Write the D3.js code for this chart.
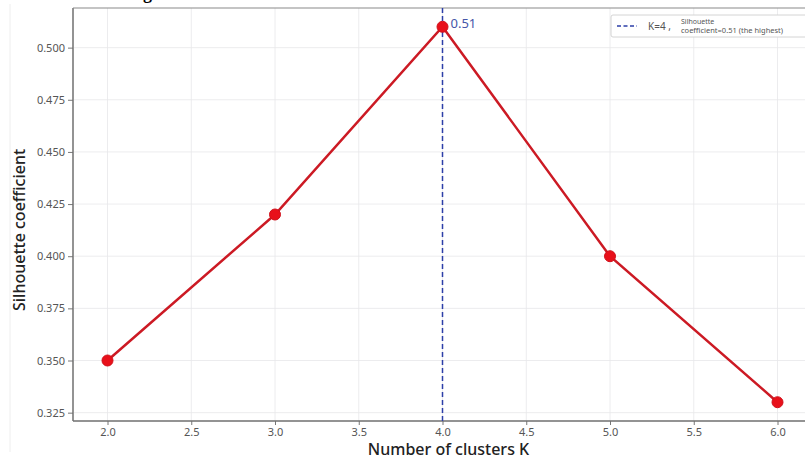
<!DOCTYPE html>
<html>
<head>
<meta charset="utf-8">
<script src="https://cdn.jsdelivr.net/npm/d3@7"></script>
<style>
  body { margin: 0; background: #fff; }
  svg { display: block; font-family: "Noto Sans", "Open Sans", sans-serif; }
</style>
</head>
<body>
<svg id="chart" width="805" height="459"></svg>
<script>
// data
const clusterK = [2, 3, 4, 5, 6];
const silhouette = [0.35, 0.42, 0.51, 0.40, 0.33];
const xTicks = [2.0, 2.5, 3.0, 3.5, 4.0, 4.5, 5.0, 5.5, 6.0];
const yTicks = [0.325, 0.35, 0.375, 0.4, 0.425, 0.45, 0.475, 0.5];
const bestK = 4;
const bestScore = 0.51;
const titleText = "Figure 4. Silhouette coefficient curve";

const svg = d3.select("#chart");
const margin = { top: 8, left: 74, bottom: 421, right: 811 };

const x = d3.scaleLinear().domain([1.8, 6.2]).range([margin.left, margin.right]);
const y = d3.scaleLinear().domain([0.321, 0.519]).range([margin.bottom, margin.top]);

// faint figure edge + title (mostly above the page, as in the source)
svg.append("line")
  .attr("x1", 10).attr("x2", 10).attr("y1", 4).attr("y2", 452)
  .attr("stroke", "#eeeeee").attr("stroke-width", 1);

svg.append("text")
  .attr("x", 127).attr("y", -1)
  .attr("font-family", "Liberation Serif, serif")
  .attr("font-weight", "bold")
  .attr("font-size", 18)
  .attr("fill", "#000")
  .text(titleText);

// grid
const grid = svg.append("g");
grid.selectAll(".gx").data(xTicks).join("line")
  .attr("x1", (d) => x(d)).attr("x2", (d) => x(d))
  .attr("y1", margin.top).attr("y2", margin.bottom)
  .attr("stroke", "#e7e7ea").attr("stroke-width", 0.8);
grid.selectAll(".gy").data(yTicks).join("line")
  .attr("x1", margin.left).attr("x2", margin.right)
  .attr("y1", (d) => y(d)).attr("y2", (d) => y(d))
  .attr("stroke", "#e7e7ea").attr("stroke-width", 0.8);

// axes
const styleAxis = (g) => {
  g.select(".domain").remove();
  g.selectAll(".tick line").attr("stroke", "#777").attr("stroke-width", 1);
  g.selectAll(".tick text")
    .attr("fill", "#555")
    .style("font-size", "11px")
    .style("font-family", "Noto Sans, sans-serif");
};

svg.append("g")
  .attr("transform", `translate(0, ${margin.bottom})`)
  .call(d3.axisBottom(x).tickValues(xTicks).tickSize(4).tickPadding(3).tickFormat(d3.format(".1f")))
  .call(styleAxis);

svg.append("g")
  .attr("transform", `translate(${margin.left - 1}, 0)`)
  .call(d3.axisLeft(y).tickValues(yTicks).tickSize(5).tickPadding(3).tickFormat(d3.format(".3f")))
  .call(styleAxis);

// spines
svg.append("line")
  .attr("x1", margin.left - 1).attr("x2", margin.left - 1)
  .attr("y1", margin.top).attr("y2", margin.bottom)
  .attr("stroke", "#6f6f6f").attr("stroke-width", 1.5);
svg.append("line")
  .attr("x1", margin.left - 1).attr("x2", margin.right)
  .attr("y1", margin.bottom).attr("y2", margin.bottom)
  .attr("stroke", "#6f6f6f").attr("stroke-width", 1.5);
svg.append("line")
  .attr("x1", margin.left - 1).attr("x2", margin.right)
  .attr("y1", margin.top).attr("y2", margin.top)
  .attr("stroke", "#8a8a8a").attr("stroke-width", 1.2);

// best K dashed line
svg.append("line")
  .attr("x1", x(bestK)).attr("x2", x(bestK))
  .attr("y1", margin.top).attr("y2", margin.bottom)
  .attr("stroke", "#2c3fa8").attr("stroke-width", 1.5)
  .attr("stroke-dasharray", "5,3");

// line + points
const pts = clusterK.map((k, i) => ({ k, v: silhouette[i] }));
const line = d3.line().x((d) => x(d.k)).y((d) => y(d.v));

svg.append("path")
  .datum(pts)
  .attr("d", line)
  .attr("fill", "none")
  .attr("stroke", "#cc1a24")
  .attr("stroke-width", 2.5);

svg.selectAll(".pt").data(pts).join("circle")
  .attr("cx", (d) => x(d.k))
  .attr("cy", (d) => y(d.v))
  .attr("r", 5.5)
  .attr("fill", "#e8101a")
  .attr("stroke", "#d0101a")
  .attr("stroke-width", 1);

// annotation
svg.append("text")
  .attr("x", x(bestK) + 8).attr("y", y(bestScore) + 1)
  .attr("fill", "#4556a8")
  .style("font-size", "13px")
  .text(bestScore.toFixed(2));

// legend
const lg = svg.append("g").attr("transform", "translate(611, 15)");
lg.append("rect")
  .attr("width", 200).attr("height", 22).attr("rx", 2)
  .attr("fill", "#fff").attr("stroke", "#d4d4d4").attr("stroke-width", 1);
lg.append("line")
  .attr("x1", 6).attr("x2", 26).attr("y1", 11).attr("y2", 11)
  .attr("stroke", "#2c3fa8").attr("stroke-width", 1.5)
  .attr("stroke-dasharray", "4,2.5");
lg.append("text")
  .attr("x", 37).attr("y", 15)
  .attr("fill", "#555").style("font-size", "10px")
  .text(`K=${bestK} ,`);
lg.append("text")
  .attr("x", 70).attr("y", 9)
  .attr("fill", "#555").style("font-size", "7px")
  .text("Silhouette");
lg.append("text")
  .attr("x", 70).attr("y", 18)
  .attr("fill", "#555").style("font-size", "7.5px")
  .text(`coefficient=${bestScore} (the highest)`);

// axis titles
svg.append("text")
  .attr("x", (margin.left + 811) / 2 + 6).attr("y", 455)
  .attr("text-anchor", "middle")
  .attr("fill", "#222")
  .style("font-size", "16px")
  .style("font-weight", 500)
  .text("Number of clusters K");

svg.append("text")
  .attr("transform", "translate(25, 230) rotate(-90)")
  .attr("text-anchor", "middle")
  .attr("fill", "#222")
  .style("font-size", "16px")
  .style("font-weight", 500)
  .text("Silhouette coefficient");
</script>
</body>
</html>
